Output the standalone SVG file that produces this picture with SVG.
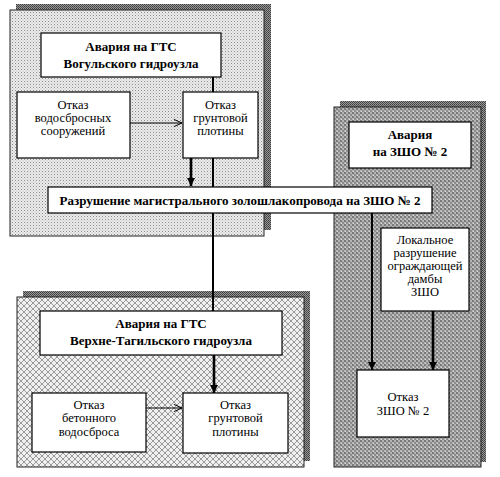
<svg xmlns="http://www.w3.org/2000/svg" width="500" height="477" viewBox="0 0 500 477">
<defs>
<pattern id="pDots" width="3" height="3" patternUnits="userSpaceOnUse">
<rect width="3" height="3" fill="#ececec"/>
<rect width="1" height="1" fill="#8a8a8a"/>
<rect x="1.5" y="1.5" width="1" height="1" fill="#b0b0b0"/>
</pattern>
<pattern id="pCross" width="6" height="6" patternUnits="userSpaceOnUse">
<rect width="6" height="6" fill="#f0f0f0"/>
<path d="M0,0 L6,6 M6,0 L0,6" stroke="#9a9a9a" stroke-width="1"/>
</pattern>
<pattern id="pDark" width="4" height="4" patternUnits="userSpaceOnUse">
<rect width="4" height="4" fill="#b4b4b4"/>
<rect width="2" height="2" fill="#7a7a7a"/>
<rect x="2" y="2" width="2" height="2" fill="#8c8c8c"/>
<rect x="1" y="3" width="1" height="1" fill="#dcdcdc"/>
</pattern>
<pattern id="pShadow" width="2" height="2" patternUnits="userSpaceOnUse">
<rect width="2" height="2" fill="#9a9a9a"/>
<rect width="1" height="1" fill="#3a3a3a"/>
<rect x="1" y="1" width="1" height="1" fill="#4a4a4a"/>
</pattern>
<marker id="aFill" viewBox="0 0 10 10" refX="10" refY="5" markerWidth="4" markerHeight="4" markerUnits="strokeWidth" orient="auto">
<path d="M0,0 L10,5 L0,10 Z" fill="#000"/>
</marker>
<marker id="aFillBig" viewBox="0 0 10 10" refX="10" refY="5" markerWidth="3.2" markerHeight="3.2" markerUnits="strokeWidth" orient="auto">
<path d="M0,0 L10,5 L0,10 Z" fill="#000"/>
</marker>
<marker id="aOpen" viewBox="0 0 10 10" refX="10" refY="5" markerWidth="9" markerHeight="9" markerUnits="strokeWidth" orient="auto">
<path d="M1,1 L10,5 L1,9" fill="none" stroke="#000" stroke-width="1.1"/>
</marker>
</defs>
<style>
.box{fill:#fff;stroke:#000;stroke-width:1.2}
.panel{stroke:#222;stroke-width:1}
.shadow{fill:url(#pShadow)}
text{font-family:'Liberation Serif',serif;fill:#000;text-anchor:middle}
.t{font-size:12.5px}
.b{font-size:13px;font-weight:bold}
.thick{stroke:#000;stroke-width:2.6;fill:none}
.mid{stroke:#000;stroke-width:2;fill:none}
.thin{stroke:#000;stroke-width:1;fill:none}
</style>

<g id="panel-vogul">
<rect class="shadow" x="16" y="4" width="255" height="226"/>
<rect class="panel" x="10" y="10" width="254" height="226" fill="url(#pDots)"/>
</g>
<g id="panel-vt">
<rect class="shadow" x="23" y="291" width="287" height="170"/>
<rect class="panel" x="17" y="297" width="287" height="170" fill="url(#pCross)"/>
</g>
<g id="panel-zsho">
<rect class="shadow" x="340" y="101" width="146" height="361"/>
<rect class="panel" x="334" y="107" width="147" height="360" fill="url(#pDark)"/>
</g>

<g id="connectors">
<line class="mid" x1="213" y1="77" x2="213" y2="92"/>
<line class="mid" x1="213" y1="158" x2="213" y2="311"/>
<line class="thin" x1="130" y1="123" x2="182" y2="123" marker-end="url(#aOpen)"/>
<line class="thick" x1="191" y1="158" x2="191" y2="186" marker-end="url(#aFillBig)"/>
<line class="thick" x1="214" y1="355" x2="214" y2="393" marker-end="url(#aFillBig)"/>
<line class="thin" x1="146" y1="408" x2="182" y2="408" marker-end="url(#aOpen)"/>
<line class="mid" x1="372" y1="213" x2="372" y2="370" marker-end="url(#aFill)"/>
<line class="thick" x1="433" y1="311" x2="433" y2="370" marker-end="url(#aFillBig)"/>
</g>

<g id="avaria-vogul">
<rect class="box" x="41" y="33" width="180" height="44"/>
<text class="b" x="131" y="51" font-family="Liberation Serif">Авария на ГТС</text>
<text class="b" x="131" y="68" font-family="Liberation Serif">Вогульского гидроузла</text>
</g>
<g id="otkaz-vodosbros">
<rect class="box" x="17" y="92" width="113" height="66"/>
<text class="t" x="73" y="109">Отказ</text>
<text class="t" x="73" y="122">водосбросных</text>
<text class="t" x="73" y="135">сооружений</text>
</g>
<g id="otkaz-grunt-1">
<rect class="box" x="183" y="92" width="75" height="66"/>
<text class="t" x="220.5" y="109">Отказ</text>
<text class="t" x="220.5" y="122">грунтовой</text>
<text class="t" x="220.5" y="135">плотины</text>
</g>
<g id="razrushenie">
<rect class="box" x="48" y="187" width="384" height="26"/>
<text class="b" x="240" y="204.5">Разрушение магистрального золошлакопровода на ЗШО № 2</text>
</g>
<g id="avaria-zsho">
<rect class="box" x="349" y="122" width="122" height="46"/>
<text class="b" x="410" y="139">Авария</text>
<text class="b" x="410" y="156">на ЗШО № 2</text>
</g>
<g id="lokalnoe">
<rect class="box" x="381" y="228" width="88" height="83"/>
<text class="t" x="425" y="244">Локальное</text>
<text class="t" x="425" y="257">разрушение</text>
<text class="t" x="425" y="270">ограждающей</text>
<text class="t" x="425" y="283">дамбы</text>
<text class="t" x="425" y="296">ЗШО</text>
</g>
<g id="otkaz-zsho">
<rect class="box" x="357" y="370" width="92" height="67"/>
<text class="t" x="403" y="401">Отказ</text>
<text class="t" x="403" y="415">ЗШО № 2</text>
</g>
<g id="avaria-vt">
<rect class="box" x="40" y="311" width="242" height="44"/>
<text class="b" x="161" y="328">Авария на ГТС</text>
<text class="b" x="161" y="345">Верхне-Тагильского гидроузла</text>
</g>
<g id="otkaz-beton">
<rect class="box" x="32" y="393" width="114" height="59"/>
<text class="t" x="89" y="409">Отказ</text>
<text class="t" x="89" y="422">бетонного</text>
<text class="t" x="89" y="436">водосброса</text>
</g>
<g id="otkaz-grunt-2">
<rect class="box" x="183" y="393" width="105" height="60"/>
<text class="t" x="235.5" y="409">Отказ</text>
<text class="t" x="235.5" y="422">грунтовой</text>
<text class="t" x="235.5" y="436">плотины</text>
</g>
</svg>
